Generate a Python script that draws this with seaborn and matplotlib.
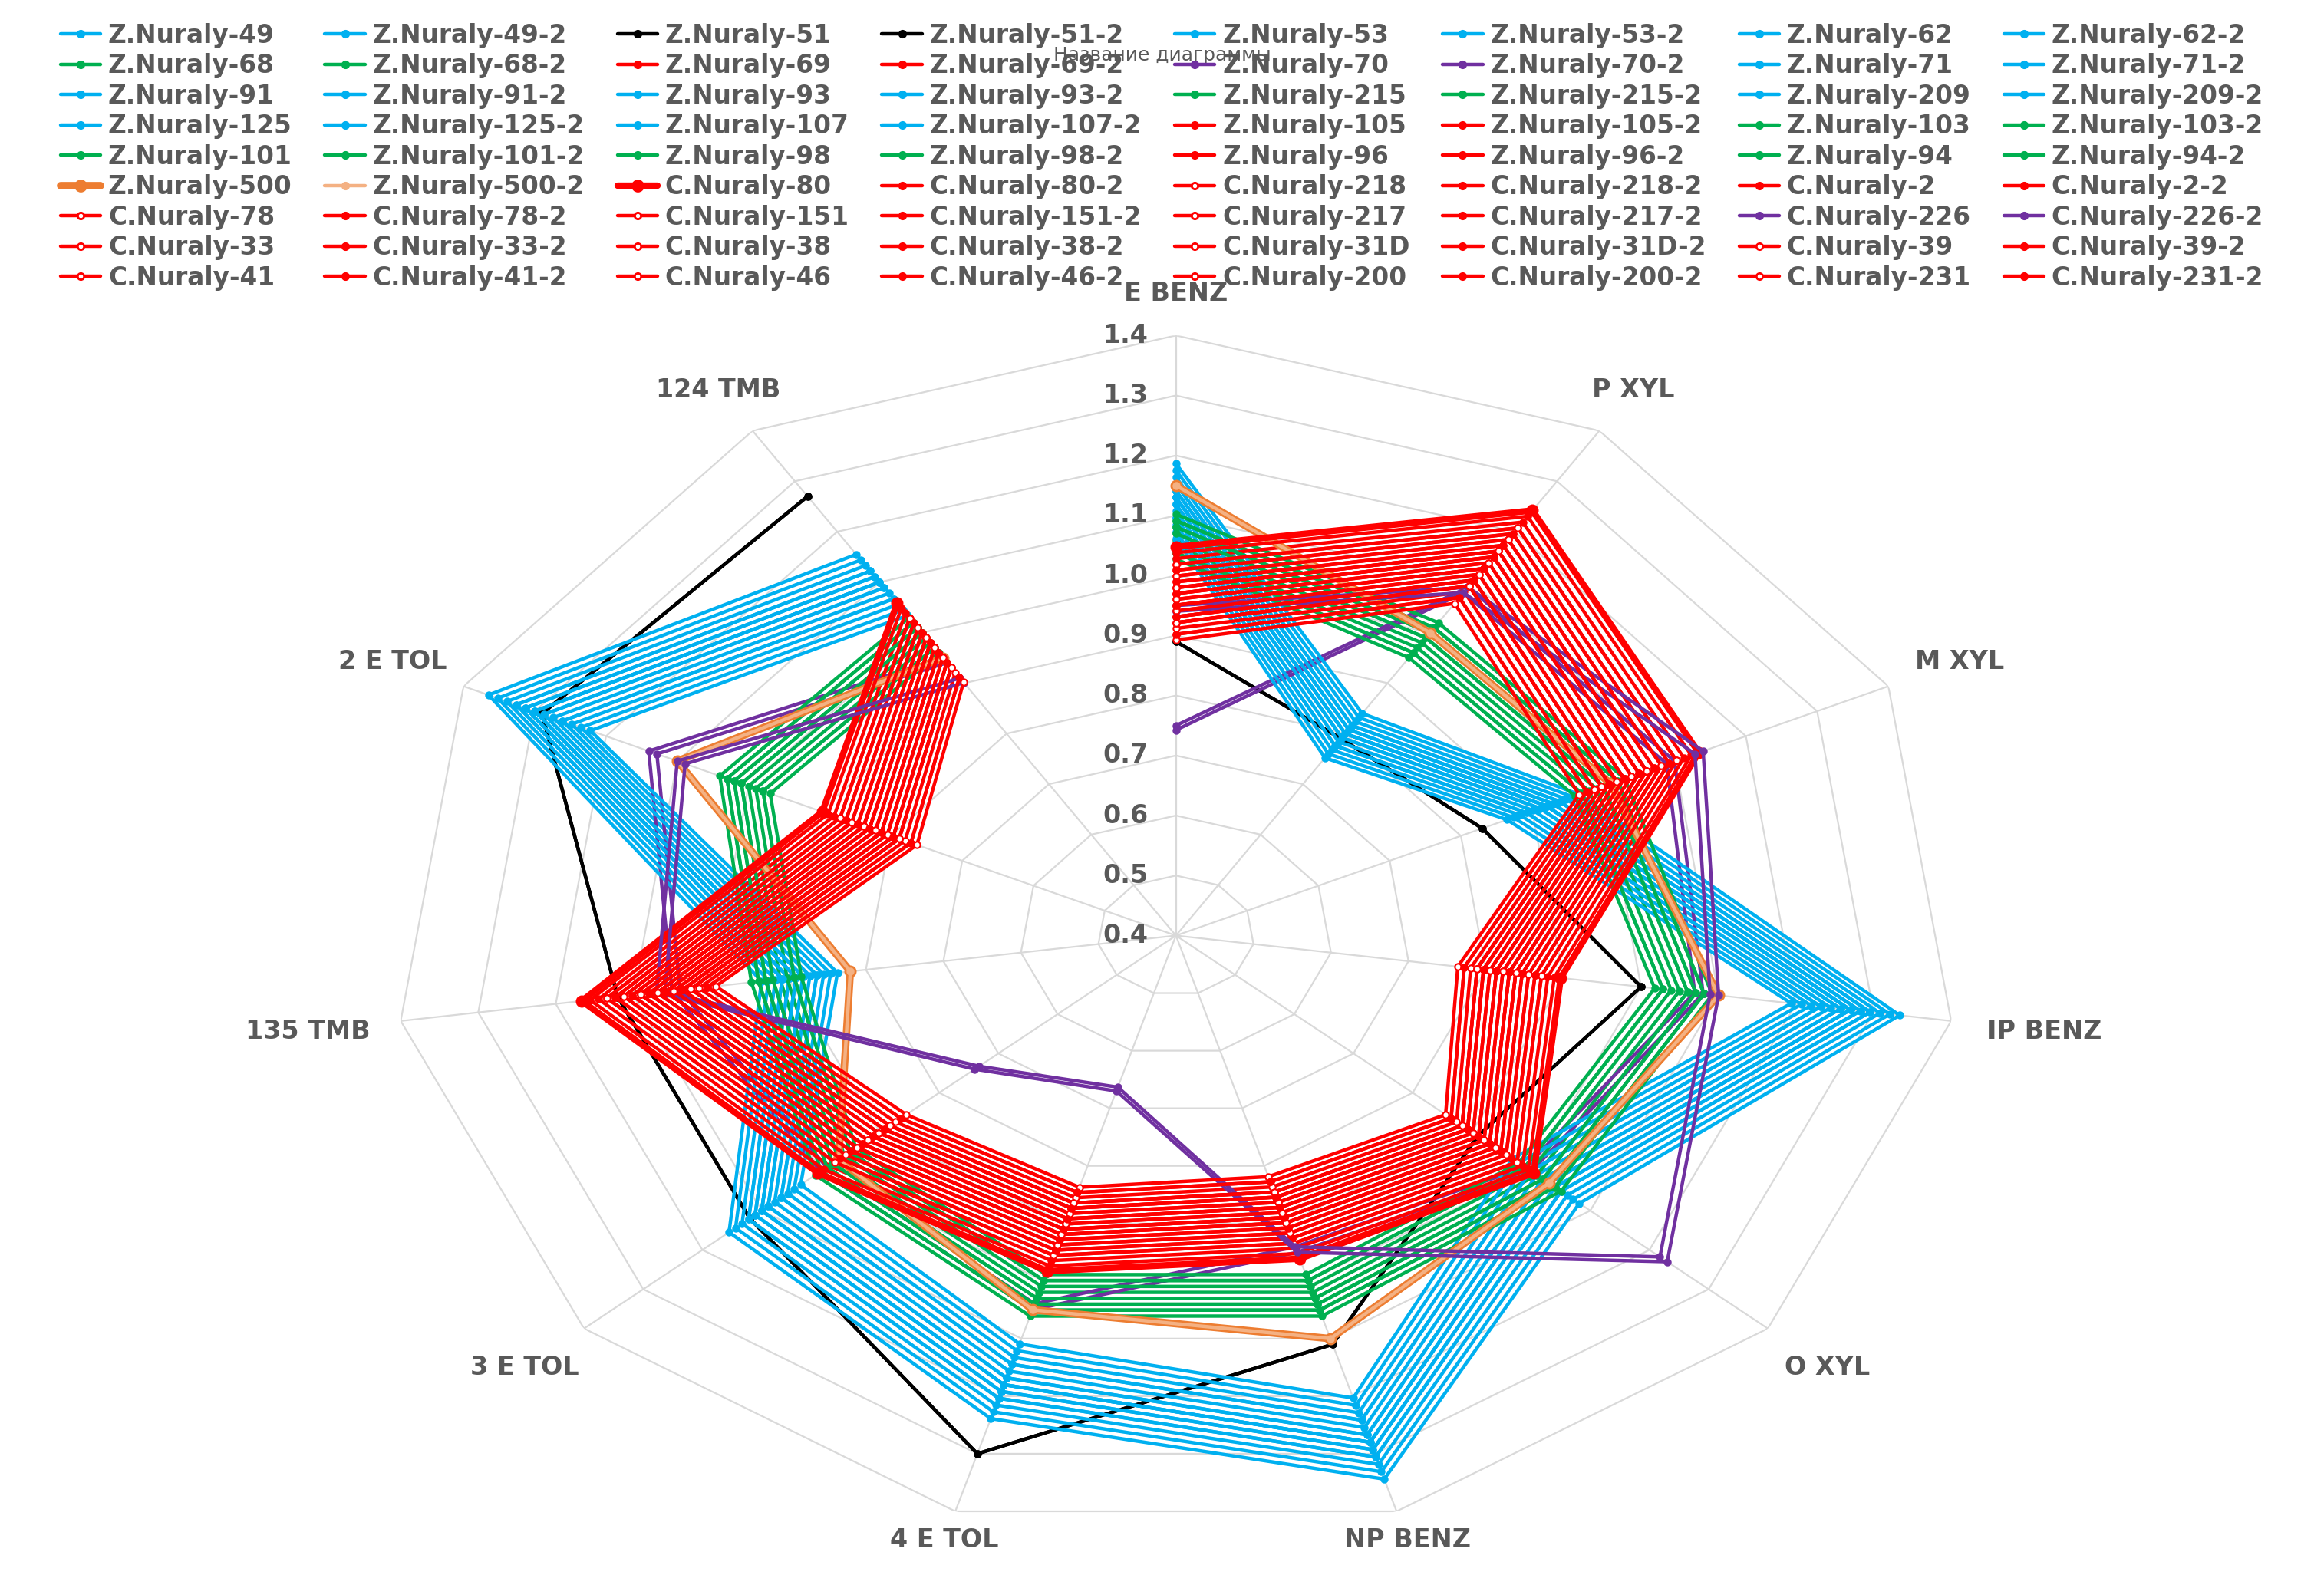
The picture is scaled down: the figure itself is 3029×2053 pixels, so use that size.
import numpy as np
import pandas as pd
import seaborn as sns
import matplotlib.pyplot as plt
from matplotlib.lines import Line2D
from matplotlib.transforms import offset_copy

sns.set_style("white")
plt.rcParams['font.family'] = ['DejaVu Sans']

axes_names = ['E BENZ', 'P XYL', 'M XYL', 'IP BENZ', 'O XYL', 'NP BENZ',
              '4 E TOL', '3 E TOL', '135 TMB', '2 E TOL', '124 TMB']

blue_base = [1.13, 0.80, 0.92, 1.27, 1.03, 1.28, 1.18, 1.10, 0.89, 1.30, 1.10]
black_base = [0.89, 0.79, 0.83, 1.00, 0.91, 1.11, 1.30, 1.12, 1.12, 1.29, 1.27]
green_base = [1.07, 0.99, 1.00, 1.06, 1.02, 1.03, 1.03, 0.98, 0.92, 1.01, 1.00]
orange_base = [1.15, 1.00, 1.01, 1.10, 1.03, 1.10, 1.05, 0.97, 0.82, 1.10, 0.95]
red_base = [0.97, 1.15, 1.05, 0.83, 0.93, 0.89, 0.91, 0.93, 1.08, 0.83, 0.98]
purple70_base = [0.75, 1.09, 1.10, 1.08, 1.00, 0.95, 1.05, 1.00, 1.05, 1.14, 0.95]
purple226_base = [0.95, 1.09, 1.14, 1.10, 1.23, 0.95, 0.67, 0.74, 1.07, 1.10, 0.91]

labels = [
    'Z.Nuraly-49', 'Z.Nuraly-49-2', 'Z.Nuraly-51', 'Z.Nuraly-51-2', 'Z.Nuraly-53', 'Z.Nuraly-53-2', 'Z.Nuraly-62', 'Z.Nuraly-62-2',
    'Z.Nuraly-68', 'Z.Nuraly-68-2', 'Z.Nuraly-69', 'Z.Nuraly-69-2', 'Z.Nuraly-70', 'Z.Nuraly-70-2', 'Z.Nuraly-71', 'Z.Nuraly-71-2',
    'Z.Nuraly-91', 'Z.Nuraly-91-2', 'Z.Nuraly-93', 'Z.Nuraly-93-2', 'Z.Nuraly-215', 'Z.Nuraly-215-2', 'Z.Nuraly-209', 'Z.Nuraly-209-2',
    'Z.Nuraly-125', 'Z.Nuraly-125-2', 'Z.Nuraly-107', 'Z.Nuraly-107-2', 'Z.Nuraly-105', 'Z.Nuraly-105-2', 'Z.Nuraly-103', 'Z.Nuraly-103-2',
    'Z.Nuraly-101', 'Z.Nuraly-101-2', 'Z.Nuraly-98', 'Z.Nuraly-98-2', 'Z.Nuraly-96', 'Z.Nuraly-96-2', 'Z.Nuraly-94', 'Z.Nuraly-94-2',
    'Z.Nuraly-500', 'Z.Nuraly-500-2', 'C.Nuraly-80', 'C.Nuraly-80-2', 'C.Nuraly-218', 'C.Nuraly-218-2', 'C.Nuraly-2', 'C.Nuraly-2-2',
    'C.Nuraly-78', 'C.Nuraly-78-2', 'C.Nuraly-151', 'C.Nuraly-151-2', 'C.Nuraly-217', 'C.Nuraly-217-2', 'C.Nuraly-226', 'C.Nuraly-226-2',
    'C.Nuraly-33', 'C.Nuraly-33-2', 'C.Nuraly-38', 'C.Nuraly-38-2', 'C.Nuraly-31D', 'C.Nuraly-31D-2', 'C.Nuraly-39', 'C.Nuraly-39-2',
    'C.Nuraly-41', 'C.Nuraly-41-2', 'C.Nuraly-46', 'C.Nuraly-46-2', 'C.Nuraly-200', 'C.Nuraly-200-2', 'C.Nuraly-231', 'C.Nuraly-231-2',
]
groups = [
    'blue', 'blue', 'black', 'black', 'blue', 'blue', 'blue', 'blue',
    'green', 'green', 'red', 'red', 'p70', 'p70', 'blue', 'blue',
    'blue', 'blue', 'blue', 'blue', 'green', 'green', 'blue', 'blue',
    'blue', 'blue', 'blue', 'blue', 'red', 'red', 'green', 'green',
    'green', 'green', 'green', 'green', 'red', 'red', 'green', 'green',
    'orange', 'orange', 'red', 'red', 'red', 'red', 'red', 'red',
    'red', 'red', 'red', 'red', 'red', 'red', 'p226', 'p226',
    'red', 'red', 'red', 'red', 'red', 'red', 'red', 'red',
    'red', 'red', 'red', 'red', 'red', 'red', 'red', 'red',
]
# per-series spread around the group profile
scales = [
    1.00, 0.99, 1.00, 1.00, 0.97, 0.98, 1.02, 1.01,
    1.00, 0.99, 1.04, 1.03, 1.00, 0.99, 1.05, 1.04,
    0.96, 0.97, 1.01, 1.00, 0.98, 0.97, 0.99, 1.00,
    0.94, 0.95, 1.03, 1.02, 0.96, 0.95, 1.02, 1.01,
    0.97, 0.96, 1.03, 1.02, 1.06, 1.05, 1.00, 1.01,
    1.00, 1.00, 1.08, 1.07, 0.98, 0.97, 1.02, 1.01,
    0.94, 0.93, 1.00, 0.99, 1.05, 1.04, 1.00, 0.99,
    0.96, 0.95, 1.01, 1.00, 0.92, 0.93, 1.03, 1.02,
    0.97, 0.98, 0.95, 0.96, 1.01, 1.00, 0.99, 0.98,
]

bases = {'blue': blue_base, 'black': black_base, 'green': green_base, 'orange': orange_base,
         'red': red_base, 'p70': purple70_base, 'p226': purple226_base}
colors = {'blue': '#00B0F0', 'black': '#000000', 'green': '#00B050', 'orange': '#ED7D31',
          'red': '#FF0000', 'p70': '#7030A0', 'p226': '#7030A0'}

rmin, rmax = 0.4, 1.4
n = len(axes_names)
theta = np.linspace(0, 2 * np.pi, n, endpoint=False)

fig = plt.figure(figsize=(15.145, 10.265), dpi=200)
ax = fig.add_axes([0.169, 0.025, 0.674, 0.762], projection='polar')
ax.set_aspect('auto')
ax.set_theta_zero_location('N')
ax.set_theta_direction(-1)
ax.set_ylim(rmin, rmax)
ax.axis('off')

# polygon grid
for v in np.arange(0.5, 1.41, 0.1):
    ax.plot(np.append(theta, theta[0]), [v] * (n + 1), color='#D9D9D9', lw=0.8, zorder=0)
for t in theta:
    ax.plot([t, t], [rmin, rmax], color='#D9D9D9', lw=0.8, zorder=0)
tick_tr = offset_copy(ax.transData, fig=fig, x=-0.33, y=0, units='inches')
for v in np.arange(0.4, 1.41, 0.1):
    ax.text(0, v, f'{v:.1f}', transform=tick_tr, ha='center', va='center',
            fontsize=12, fontweight='bold', color='#595959', zorder=5)
label_r = [1.47, 1.48, 1.5, 1.52, 1.5, 1.45, 1.45, 1.5, 1.52, 1.5, 1.48]
for t, name, lr in zip(theta, axes_names, label_r):
    ax.text(t, lr, name, ha='center', va='center', fontsize=12, fontweight='bold', color='#595959')

handles = []
for lab, g, s in zip(labels, groups, scales):
    vals = np.array(bases[g]) * s
    df = pd.DataFrame({'theta': np.append(theta, theta[0]), 'r': np.append(vals, vals[0])})
    c = colors[g]
    lw = 1.6
    ms = 3
    face = c
    if g == 'orange' and not lab.endswith('-2'):
        lw = 3.5
        ms = 5
    if g == 'orange' and lab.endswith('-2'):
        c = '#F4B183'
        face = c
    if lab == 'C.Nuraly-80':
        lw = 3
        ms = 5
    if g == 'red' and lab.startswith('C') and lab != 'C.Nuraly-80' and not lab.endswith('-2'):
        face = 'white'
    sns.lineplot(data=df, x='theta', y='r', ax=ax, color=c, lw=lw, sort=False,
                 marker='o', markersize=ms, markerfacecolor=face, markeredgecolor=c,
                 legend=False, clip_on=False)
    handles.append(Line2D([], [], color=c, lw=lw, marker='o', markersize=ms,
                          markerfacecolor=face, markeredgecolor=c, label=lab))

ordered = [handles[r * 8 + col] for col in range(8) for r in range(9)]
fig.legend(handles=ordered, loc='upper center', ncol=8, bbox_to_anchor=(0.5, 1.0),
           frameon=False, handlelength=1.6, columnspacing=1.3,
           labelspacing=0.2, handletextpad=0.3, prop={'weight': 'bold', 'size': 11.8},
           labelcolor='#595959')
fig.text(0.5, 0.965, 'Название диаграммы', ha='center', va='center', fontsize=9, color='#595959')

fig.savefig('out.png', dpi=200)
